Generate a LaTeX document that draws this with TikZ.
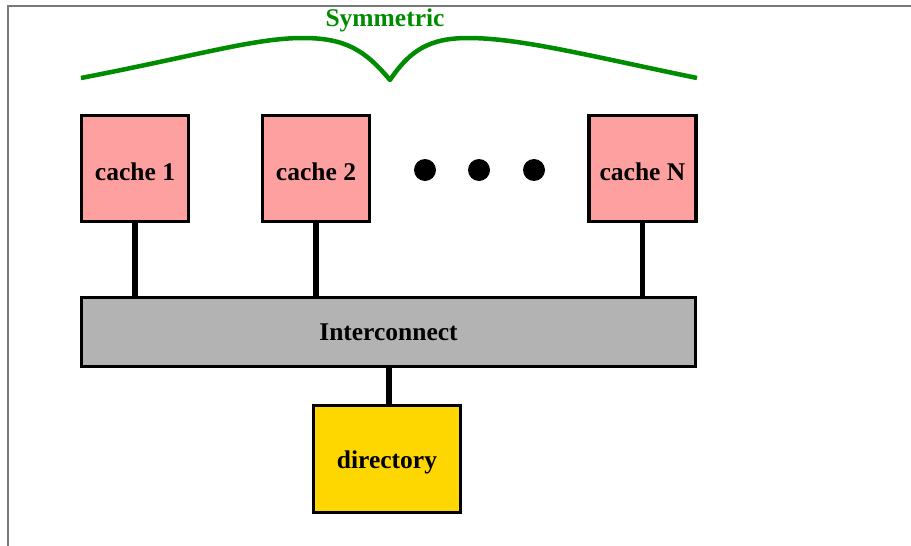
\documentclass[tikz,border=0pt]{standalone}
\usepackage{fontspec}
\setmainfont{Liberation Serif}
\newfontfamily\labelfont{Liberation Serif}
\definecolor{cachepink}{RGB}{255,160,160}
\definecolor{busgray}{RGB}{179,179,179}
\definecolor{dirgold}{RGB}{255,215,0}
\definecolor{bracegreen}{RGB}{0,140,0}
\definecolor{framegray}{RGB}{120,120,120}
\tikzset{
  lbl/.style={font=\labelfont\fontsize{25.5}{30}\selectfont\bfseries},
  box/.style={draw=black, line width=3.5pt, inner sep=0pt, lbl},
  cachebox/.style={box, fill=cachepink, minimum width=107pt, minimum height=106pt,
                   text height=23pt, text depth=0pt},
  link/.style={line width=5.5pt},
  dot/.style={circle, fill=black, inner sep=0pt, minimum size=22pt},
}
\begin{document}
\begin{tikzpicture}[x=1pt, y=-1pt]
  \useasboundingbox (0,0) rectangle (911,546);
  % page frame
  \draw[framegray, line width=2pt] (8,546) -- (8,6) -- (911,6);

  % caches
  \node[cachebox] (c1) at (135,168.5) {cache 1};
  \node[cachebox] (c2) at (316,168.5) {cache 2};
  \node[cachebox] (cN) at (642.5,168.5) {cache N};
  \node[dot] (d1) at (425,170) {};
  \node[dot] (d2) at (479,170) {};
  \node[dot] (d3) at (534,170) {};

  % interconnect and directory
  \node[box, fill=busgray, minimum width=614pt, minimum height=69pt] (ic) at (388.5,332) {Interconnect};
  \node[box, fill=dirgold, minimum width=147pt, minimum height=107pt,
        text height=25pt, text depth=6pt] (dir) at (387,459) {directory};

  % links
  \draw[link] (c1.south) -- (c1.south |- ic.north);
  \draw[link] (c2.south) -- (c2.south |- ic.north);
  \draw[link] (cN.south) -- (cN.south |- ic.north);
  \draw[link] (dir.north -| 389,0) -- (ic.south -| 389,0);

  % brace over the caches
  \coordinate (bl) at (81,78);
  \coordinate (bt) at (390,80);
  \coordinate (br) at (697,78);
  \draw[bracegreen, line width=4.5pt, line join=round]
    (bl) .. controls (200,55) and (255,38) .. (303,38)
         .. controls (345,38) and (365,50) .. (bt)
         .. controls (410,50) and (430,38) .. (468,38)
         .. controls (520,38) and (590,56) .. (br);
  \node[lbl, text=bracegreen, anchor=base] (sym) at (385,27) {Symmetric};
\end{tikzpicture}
\end{document}
